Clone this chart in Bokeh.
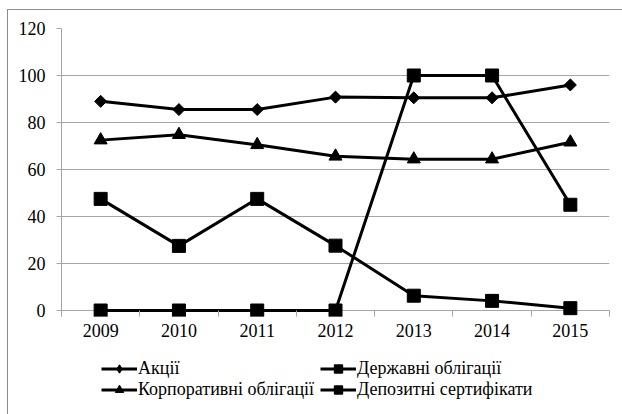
from bokeh.plotting import figure
from bokeh.models import Range1d, FixedTicker, Legend, LegendItem, ColumnDataSource
from bokeh.layouts import column
from bokeh.embed import file_html
from bokeh.resources import INLINE
import math

years = ["2009", "2010", "2011", "2012", "2013", "2014", "2015"]
akcii = [89, 85.5, 85.5, 90.8, 90.5, 90.5, 96]
derzh = [47.5, 27.5, 47.5, 27.6, 6.3, 4.1, 1.0]
korp = [72.5, 74.8, 70.5, 65.6, 64.4, 64.4, 71.6]
depoz = [0, 0, 0, 0, 100, 100, 45]
names = ["Акції", "Державні облігації", "Корпоративні облігації", "Депозитні сертифікати"]
y_ticks = [0, 20, 40, 60, 80, 100, 120]

xs = list(range(len(years)))
FONT = "Liberation Serif"
GRID = "#a6a6a6"

p = figure(width=614, height=340, output_backend="svg", toolbar_location=None,
           x_range=Range1d(-0.5, len(years) - 0.5), y_range=Range1d(-2.55, 120),
           min_border_left=53, min_border_right=13, min_border_top=18, min_border_bottom=34)
p.outline_line_color = None
p.background_fill_color = "white"
p.border_fill_color = "white"

# x axis sits just under the zero line; boundary ticks reach up to it
p.xaxis.ticker = FixedTicker(ticks=xs, minor_ticks=[x - 0.5 for x in xs] + [xs[-1] + 0.5])
p.xaxis.major_label_overrides = {x: y for x, y in zip(xs, years)}
p.xaxis.major_tick_out = 0
p.xaxis.major_tick_in = 0
p.xaxis.minor_tick_out = 0
p.xaxis.minor_tick_in = 6
p.xaxis.minor_tick_line_color = GRID
p.xaxis.axis_line_color = None
p.xaxis.major_label_standoff = 7
p.yaxis.ticker = FixedTicker(ticks=y_ticks)
p.yaxis.minor_tick_line_color = None
p.yaxis.major_tick_out = 5
p.yaxis.major_tick_in = 0
p.yaxis.major_tick_line_color = GRID
p.yaxis.axis_line_color = GRID
p.yaxis.major_label_standoff = 11
for ax in (p.xaxis, p.yaxis):
    ax.major_label_text_font = FONT
    ax.major_label_text_font_size = "18px"
    ax.major_label_text_color = "black"
p.xgrid.grid_line_color = None
p.ygrid.ticker = FixedTicker(ticks=y_ticks)
p.ygrid.grid_line_color = GRID

# legend lives in its own strip below the chart; its ranges keep the data out of view
lg = figure(width=614, height=64, output_backend="svg", toolbar_location=None,
            x_range=Range1d(1000, 1001), y_range=Range1d(1000, 1001),
            x_axis_location=None, y_axis_location=None,
            min_border_left=0, min_border_right=0, min_border_top=0, min_border_bottom=0)
lg.grid.grid_line_color = None
lg.outline_line_color = None
lg.border_fill_color = "white"
lg.background_fill_color = "white"

items = []
specs = [(akcii, "square", 8.5, math.pi / 4, "diamond", 11),
         (derzh, "square", 13, 0, "square", 9),
         (korp, "triangle", 13, 0, "triangle", 10),
         (depoz, "square", 13, 0, "square", 9)]
for name, (vals, marker, size, ang, lmarker, lsize) in zip(names, specs):
    src = ColumnDataSource(dict(x=xs, y=vals))
    p.line("x", "y", source=src, line_color="black", line_width=3)
    p.scatter("x", "y", source=src, marker=marker, size=size, angle=ang,
              fill_color="black", line_color="black")
    l = lg.line("x", "y", source=src, line_color="black", line_width=3)
    s = lg.scatter("x", "y", source=src, marker=lmarker, size=lsize,
                   fill_color="black", line_color="black")
    items.append(LegendItem(label=name, renderers=[l, s]))

legend = Legend(items=items, orientation="horizontal", ncols=2, location=(40, 14),
                label_text_font=FONT, label_text_font_size="18px", label_text_color="black",
                glyph_width=36, glyph_height=21, label_height=21, label_standoff=1,
                label_width=182, spacing=0, padding=0, margin=0,
                border_line_color=None, background_fill_alpha=0)
lg.add_layout(legend, "center")

layout = column(p, lg, spacing=0)
layout.styles = {"margin-left": "7px", "margin-top": "9px",
                 "border-top": "1px solid #8c8c8c", "border-left": "1px solid #8c8c8c"}

open("out.html", "w").write(file_html(layout, INLINE))
